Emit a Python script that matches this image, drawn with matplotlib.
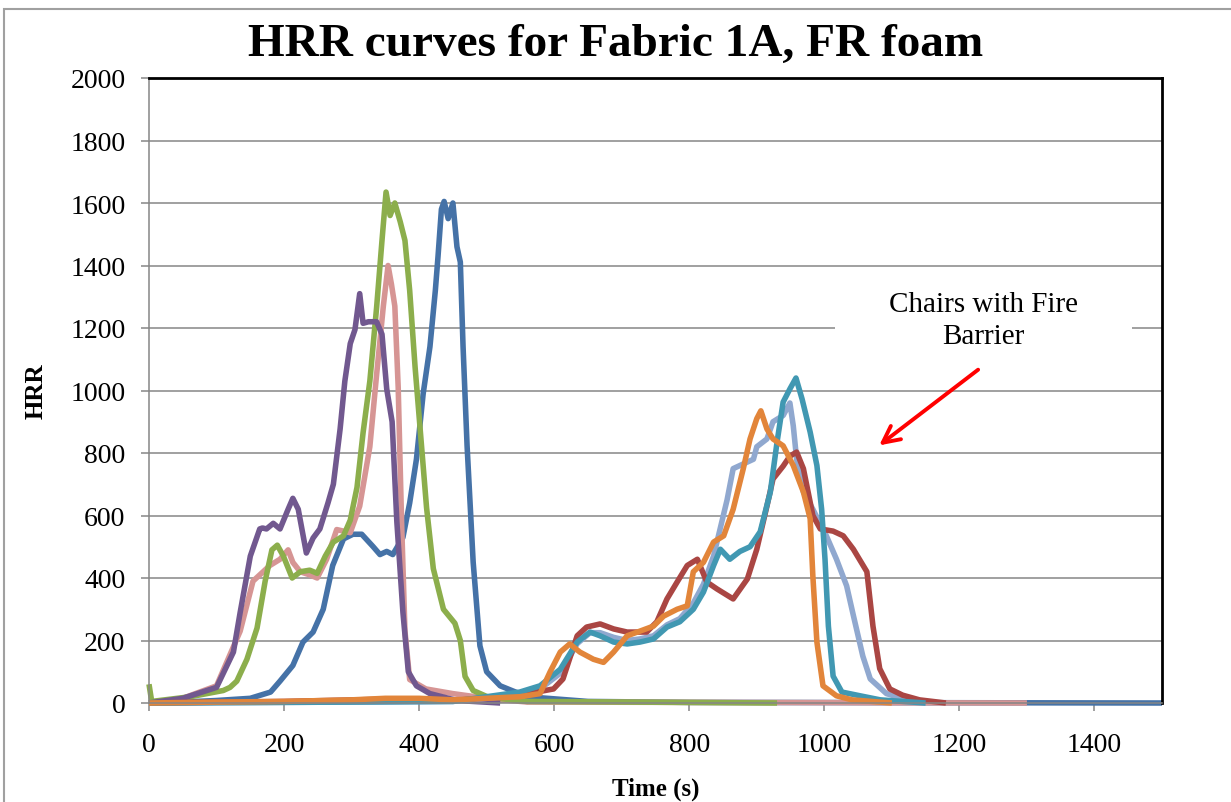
import matplotlib
matplotlib.use('Agg')
import matplotlib.pyplot as plt
from matplotlib.patches import Rectangle

plt.rcParams['font.family'] = ['Liberation Serif', 'DejaVu Serif']

# chairs without barrier
blue_t = [0, 50, 100, 150, 180, 194, 213, 228, 243, 258, 272, 288, 302, 315, 332, 342, 352, 361, 376, 386,
          396, 406, 416, 424, 428, 433, 437, 443, 450, 456, 461, 465, 471, 480, 490, 500, 520, 560, 650, 800, 1500]
blue_v = [0, 3, 8, 15, 35, 70, 120, 195, 227, 300, 440, 525, 540, 540, 500, 475, 485, 475, 530, 640,
          780, 990, 1140, 1320, 1430, 1580, 1605, 1550, 1600, 1460, 1411, 1143, 823, 451, 183, 100, 55, 20, 5, 2, 0]

rose_t = [0, 50, 100, 135, 154, 164, 179, 194, 206, 213, 224, 238, 249, 263, 278, 298, 312, 327, 337, 347,
          354, 359, 364, 369, 374, 379, 386, 410, 450, 500, 560, 1300]
rose_v = [0, 15, 55, 230, 390, 410, 440, 460, 490, 450, 420, 410, 400, 460, 555, 545, 630, 820, 1050, 1270,
          1400, 1340, 1270, 1010, 580, 230, 75, 45, 30, 15, 3, 0]

green_t = [0, 4, 61, 110, 120, 130, 145, 160, 172, 182, 190, 199, 212, 224, 238, 249, 261, 273, 288, 298,
           308, 317, 327, 337, 345, 351, 357, 364, 372, 379, 386, 394, 401, 411, 421, 436, 453, 461, 468, 480,
           503, 560, 930]
green_v = [60, 5, 20, 40, 50, 70, 140, 240, 390, 490, 505, 470, 400, 420, 425, 415, 470, 515, 535, 585,
           690, 865, 1030, 1265, 1480, 1635, 1560, 1600, 1540, 1480, 1320, 1075, 890, 625, 430, 300, 255, 200, 85, 40,
           18, 5, 0]

purple_t = [0, 50, 100, 125, 135, 150, 164, 168, 174, 184, 194, 206, 213, 221, 233, 243, 253, 265, 273, 283,
            290, 298, 305, 312, 317, 325, 337, 345, 352, 360, 367, 376, 384, 396, 416, 456, 520]
purple_v = [0, 15, 50, 163, 290, 470, 557, 560, 557, 575, 557, 620, 655, 620, 480, 528, 557, 640, 700, 877,
            1030, 1150, 1195, 1310, 1215, 1220, 1220, 1180, 1005, 900, 580, 290, 100, 55, 30, 8, 0]

# chairs with fire barrier
red_t = [0, 200, 350, 450, 549, 599, 613, 634, 648, 668, 688, 708, 737, 752, 767, 782, 797, 812, 826, 841,
         865, 886, 900, 915, 924, 939, 949, 959, 969, 983, 994, 1013, 1028, 1043, 1063, 1072, 1082, 1097, 1116,
         1141, 1180]
red_v = [0, 5, 12, 8, 25, 45, 77, 215, 243, 253, 237, 227, 227, 260, 333, 387, 440, 460, 387, 365,
         333, 397, 492, 630, 717, 758, 790, 803, 750, 600, 557, 550, 535, 492, 420, 246, 110, 45, 25,
         10, 0]

lblue_t = [0, 300, 450, 549, 579, 609, 634, 653, 668, 688, 708, 727, 747, 767, 786, 806, 821, 836, 846, 856,
           865, 875, 895, 900, 915, 924, 939, 949, 954, 959, 969, 983, 1003, 1018, 1033, 1043, 1057, 1068, 1092,
           1116, 1150]
lblue_v = [0, 3, 5, 25, 45, 95, 190, 225, 225, 210, 200, 205, 215, 250, 270, 320, 380, 470, 560, 650,
           750, 760, 780, 820, 845, 900, 920, 960, 887, 780, 675, 620, 535, 460, 375, 280, 150, 77, 30,
           15, 0]

teal_t = [0, 300, 450, 549, 579, 609, 634, 653, 668, 688, 708, 727, 747, 767, 786, 806, 821, 836, 846, 860,
          875, 890, 905, 920, 930, 939, 949, 958, 967, 979, 989, 996, 1001, 1006, 1013, 1026, 1053, 1083, 1150]
teal_v = [0, 3, 5, 35, 55, 108, 195, 227, 215, 195, 189, 195, 205, 243, 260, 300, 355, 440, 492, 460,
          485, 500, 548, 675, 835, 963, 1005, 1040, 973, 867, 760, 620, 460, 246, 86, 35, 23, 10, 0]

orange_t = [0, 100, 200, 300, 350, 400, 450, 500, 549, 579, 594, 609, 623, 638, 658, 673, 688, 708, 727, 747,
            762, 782, 797, 806, 821, 836, 851, 865, 880, 890, 900, 906, 915, 924, 939, 954, 969, 979, 983, 989,
            998, 1018, 1041, 1100]
orange_v = [0, 3, 5, 10, 15, 15, 10, 15, 20, 30, 100, 163, 189, 163, 140, 130, 163, 215, 230, 246,
            278, 300, 311, 420, 450, 515, 535, 620, 750, 845, 910, 935, 877, 845, 823, 760, 675, 590, 406, 195,
            55, 23, 10, 0]

series = [
    (blue_t, blue_v, '#4572A7'),
    (rose_t, rose_v, '#D69594'),
    (green_t, green_v, '#8CAE4C'),
    (purple_t, purple_v, '#71588F'),
    (lblue_t, lblue_v, '#90A8CF'),
    (red_t, red_v, '#AA4643'),
    (teal_t, teal_v, '#4198B2'),
    (orange_t, orange_v, '#E2853A'),
]

x_ticks = [0, 200, 400, 600, 800, 1000, 1200, 1400]
y_ticks = [0, 200, 400, 600, 800, 1000, 1200, 1400, 1600, 1800, 2000]

fig = plt.figure(figsize=(12.31, 8.03), dpi=100)
ax = fig.add_axes([149 / 1231, 99 / 803, 1013 / 1231, 625 / 803])

for t, v, c in series:
    ax.plot(t, v, color=c, lw=4.0, solid_joinstyle='round', solid_capstyle='butt', zorder=2,
            clip_on=False)

ax.set_xlim(0, 1500)
ax.set_ylim(0, 2000)
ax.set_xticks(x_ticks)
ax.set_yticks(y_ticks)
ax.tick_params(axis='both', direction='out', length=6, width=1.1, color='#868686', labelsize=20)
ax.tick_params(axis='y', pad=11)
ax.tick_params(axis='x', pad=15)
ax.set_axisbelow(True)
ax.yaxis.grid(True, color='#868686', lw=1.1)

for side in ['left', 'bottom']:
    ax.spines[side].set_color('#868686')
    ax.spines[side].set_linewidth(1.1)
for side in ['top', 'right']:
    ax.spines[side].set_color('black')
    ax.spines[side].set_linewidth(2)

fig.text(0.5, 1 - 45 / 803, 'HRR curves for Fabric 1A, FR foam', ha='center', va='center',
         fontsize=34, fontweight='bold')
ax.set_ylabel('HRR', fontsize=18, fontweight='bold', labelpad=16)
ax.set_xlabel('Time (s)', fontsize=18, fontweight='bold', labelpad=14)

# label box for the barrier group
ax.add_patch(Rectangle((1016, 1130), 440, 230, facecolor='white', edgecolor='none', zorder=1))
ax.text(1235, 1226, 'Chairs with Fire\nBarrier', ha='center', va='center', fontsize=21,
        linespacing=1.28, zorder=3)
ax.annotate('', xy=(1078, 819), xytext=(1231, 1072),
            arrowprops=dict(arrowstyle='->', color='#FF0000', lw=2.8, mutation_scale=30))

# chart area border
fig.add_artist(Rectangle((4 / 1231, -0.1), 1.2, (803 - 10) / 803 + 0.1, transform=fig.transFigure,
                         facecolor='none', edgecolor='#A0A0A0', lw=1.5))

fig.savefig('out.png', dpi=100)
